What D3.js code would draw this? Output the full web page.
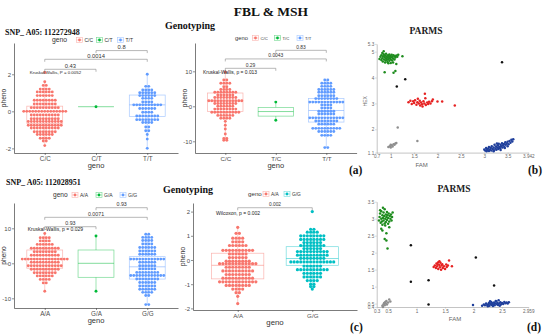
<!DOCTYPE html>
<html><head><meta charset="utf-8">
<script src="https://cdn.jsdelivr.net/npm/d3@7"></script>
<style>body{margin:0;background:#fff}svg{display:block}</style>
</head><body>
<svg id="c" width="546" height="334"></svg>
<script>
// ================= DATA =================
// ---- (a) left: SNP_ A05: 112272948 (FBL) ----
const fblTitle = "SNP_ A05: 112272948";
const fblCats = ["C/C", "C/T", "T/T"];
// dot rows: [pheno value, number of dots in the row]
const fblDotsCC = [[2.1,1],[1.6,1],[1.4,2],[1.2,4],[1.05,6],[0.85,6],[0.6,8],[0.4,8],[0.2,10],[0,15],[-0.2,10],[-0.4,10],[-0.55,12],[-0.75,12],[-0.9,10],[-1.1,8],[-1.25,6],[-1.45,4],[-1.6,2],[-1.85,1]];
const fblDotsCT = [[0.25,1]];
const fblDotsTT = [[2.0,1],[1.35,2],[1.15,4],[1.0,6],[0.85,6],[0.7,4],[0.5,4],[0.35,10],[0.15,6],[-0.05,4],[-0.25,8],[-0.45,8],[-0.6,4],[-0.85,2],[-1.05,2],[-1.25,1],[-1.5,1],[-2.0,1]];
// box stats: [min, q1, median, q3, max]
const fblBox = [[-1.85,-0.65,0.0,0.28,1.6],[0.25,0.25,0.25,0.25,0.25],[-2.0,-0.28,0.35,0.88,2.0]];
const fblTicks = [-2, 0, 2];
const fblPairs = [["C/T","T/T","0.8"],["C/C","T/T","0.0014"],["C/C","C/T","0.43"]];
const fblTest = "Kruskal-Wallis, P = 0.0052";

// ---- (a) right: MSH ----
const mshCats = ["C/C", "T/C", "T/T"];
const mshDotsCC = [[9.8,1],[7.5,2],[6.6,4],[5.6,2],[4.8,4],[4.0,8],[3.2,6],[2.5,8],[1.6,12],[0.8,8],[0,6],[-0.8,8],[-1.7,10],[-2.6,6],[-3.4,4],[-4.3,1],[-5.4,1],[-6.5,1],[-7.9,1],[-9.2,2],[-9.7,2]];
const mshDotsTC = [[1.2,1],[-4.0,1]];
const mshDotsTT = [[7.5,2],[6.6,4],[5.7,4],[4.8,6],[4.0,6],[3.0,6],[2.2,8],[1.2,12],[0.4,4],[-0.5,4],[-1.4,6],[-2.2,6],[-3.3,12],[-4.2,8],[-5.1,6],[-6.3,10],[-7.2,6],[-8.3,4],[-11.8,2]];
const mshBox = [[-9.7,-1.5,1.5,3.8,9.8],[-4.0,-2.8,-1.5,-0.3,1.2],[-11.8,-4.5,-1.2,2.2,7.5]];
const mshTicks = [-10, 0, 10];
const mshPairs = [["T/C","T/T","0.83"],["C/C","T/T","0.0043"],["C/C","T/C","0.29"]];
const mshTest = "Kruskal-Wallis, p = 0.013";

// ---- (c) left: SNP_ A05: 112028951 ----
const c1Title = "SNP_ A05: 112028951";
const c1Cats = ["A/A", "G/A", "G/G"];
const c1DotsAA = [[8.5,1],[7.3,4],[6.4,4],[5.4,6],[4.3,10],[3.3,8],[2.3,10],[1.2,16],[0.3,10],[-0.7,12],[-1.7,10],[-2.7,8],[-3.6,6],[-4.6,4],[-5.6,2],[-8.0,1]];
const c1DotsGA = [[7.8,1],[-8.0,1]];
const c1DotsGG = [[8.3,2],[7.4,4],[6.5,4],[5.5,4],[4.5,6],[3.5,6],[2.6,6],[1.2,12],[0.3,6],[-0.7,6],[-1.6,6],[-2.6,8],[-3.5,12],[-4.5,8],[-5.5,6],[-6.5,6],[-7.4,6],[-8.3,4],[-9.2,2],[-11.8,2]];
const c1Box = [[-8.0,-1.4,1.2,3.8,8.5],[-8.0,-4.0,0.0,3.8,7.8],[-11.8,-4.5,-1.0,1.9,8.3]];
const c1Ticks = [-10, 0, 10];
const c1Pairs = [["G/A","G/G","0.93"],["A/A","G/G","0.0071"],["A/A","G/A","0.93"]];
const c1Test = "Kruskal-Wallis, p = 0.029";

// ---- (c) right ----
const c2Cats = ["A/A", "G/G"];
const c2DotsAA = [[1.35,1],[1.1,2],[0.9,4],[0.75,4],[0.6,6],[0.4,10],[0.25,6],[0.1,6],[-0.05,8],[-0.15,12],[-0.3,8],[-0.45,10],[-0.6,8],[-0.75,10],[-0.9,12],[-1.05,8],[-1.2,4],[-1.35,2],[-1.5,1],[-1.8,1]];
const c2DotsGG = [[2.0,1],[1.27,2],[1.15,4],[1.0,8],[0.85,8],[0.72,6],[0.6,8],[0.47,6],[0.35,10],[0.2,10],[0.07,8],[-0.08,14],[-0.25,6],[-0.4,10],[-0.55,6],[-0.7,6],[-0.85,4],[-1.0,2],[-1.1,2],[-1.2,1]];
const c2Box = [[-1.8,-0.78,-0.22,0.28,1.35],[-1.2,-0.22,0.06,0.55,1.27]];
const c2Ticks = [-2, -1, 0, 1, 2];
const c2Pairs = [["A/A","G/G","0.002"]];
const c2Test = "Wilcoxon, p = 0.002";

// ---- (b) PARMS scatter: [FAM, HEX] ----
const bGreen = [[0.76,4.72],[0.78,4.80],[0.80,4.68],[0.80,4.86],[0.82,4.75],[0.83,4.62],[0.84,4.82],[0.85,4.90],[0.86,4.70],[0.87,4.78],[0.88,4.58],[0.88,4.85],[0.89,4.66],[0.90,4.74],[0.90,4.92],[0.91,4.81],[0.92,4.69],[0.93,4.60],[0.93,4.77],[0.94,4.86],[0.95,4.72],[0.96,4.80],[0.97,4.65],[0.97,4.89],[0.98,4.75],[0.99,4.83],[1.00,4.70],[1.01,4.78],[1.02,4.88],[1.03,4.66],[1.04,4.80],[1.05,4.74],[1.06,4.86],[1.08,4.70],[1.09,4.82],[1.10,4.77],[1.12,4.85],[1.14,4.80],[1.16,4.88],[0.85,5.02],[0.82,4.95],[1.00,4.56],[1.05,4.58],[0.95,4.55],[1.25,4.82],[0.87,4.20],[1.06,4.19],[1.10,4.25],[1.12,4.52]];
const bRed = [[1.38,3.05],[1.42,3.10],[1.45,2.98],[1.48,3.08],[1.50,3.02],[1.52,3.12],[1.55,2.95],[1.57,3.05],[1.60,3.00],[1.62,3.10],[1.63,2.92],[1.65,3.04],[1.67,2.97],[1.68,2.88],[1.70,3.08],[1.72,3.00],[1.73,3.37],[1.74,3.20],[1.75,2.94],[1.78,3.04],[1.80,2.98],[1.82,3.06],[1.85,3.00],[1.88,3.08],[1.90,3.15],[2.00,3.07],[2.10,3.07],[2.37,2.92],[1.58,3.18]];
const bBlue = [[3.00,1.22],[3.02,1.18],[3.04,1.28],[3.06,1.20],[3.08,1.25],[3.10,1.16],[3.10,1.32],[3.12,1.22],[3.14,1.28],[3.15,1.18],[3.16,1.35],[3.18,1.24],[3.20,1.30],[3.21,1.19],[3.22,1.40],[3.24,1.26],[3.25,1.34],[3.26,1.21],[3.28,1.30],[3.29,1.38],[3.30,1.24],[3.31,1.44],[3.32,1.32],[3.34,1.27],[3.35,1.40],[3.36,1.35],[3.38,1.46],[3.39,1.30],[3.40,1.38],[3.42,1.43],[3.43,1.33],[3.45,1.50],[3.46,1.40],[3.48,1.45],[3.50,1.52],[3.52,1.42],[3.54,1.55],[3.56,1.48],[3.58,1.60],[3.60,1.53],[3.62,1.62],[3.20,1.15],[3.35,1.20],[3.44,1.28],[3.05,1.15],[3.27,1.45],[3.50,1.35]];
const bGray = [[0.95,1.32],[0.98,1.35],[1.00,1.30],[1.02,1.38],[1.04,1.34],[1.06,1.42],[1.08,1.40],[1.10,1.45],[1.12,1.47],[1.00,1.40],[1.15,2.07],[1.57,1.55]];
const bBlack = [[1.13,3.65],[1.31,3.93],[3.38,4.59]];
const bXTicks = [0.7, 1, 1.5, 2, 2.5, 3, 3.5, 3.942];
const bYTicks = [1.1, 2, 3, 4, 5, 5.3];

// ---- (d) PARMS scatter ----
const dGreen = [[0.34,2.95],[0.35,3.05],[0.36,3.15],[0.37,2.88],[0.38,3.00],[0.38,3.22],[0.39,2.92],[0.40,3.10],[0.40,2.82],[0.41,3.02],[0.42,3.18],[0.42,2.95],[0.43,3.08],[0.44,2.86],[0.44,3.28],[0.45,3.00],[0.46,3.12],[0.46,2.90],[0.47,3.05],[0.48,3.20],[0.48,2.96],[0.49,3.10],[0.50,2.85],[0.50,3.02],[0.51,3.15],[0.52,2.92],[0.53,3.08],[0.54,3.00],[0.55,3.12],[0.56,2.95],[0.57,3.05],[0.58,3.18],[0.38,2.70],[0.40,2.65],[0.45,2.80],[0.47,2.57],[0.44,2.40],[0.47,2.36],[0.49,2.12],[0.52,2.75],[0.36,3.25],[0.41,3.32]];
const dRed = [[1.30,1.58],[1.32,1.62],[1.34,1.55],[1.35,1.68],[1.36,1.60],[1.38,1.52],[1.38,1.72],[1.40,1.64],[1.41,1.57],[1.42,1.70],[1.43,1.50],[1.44,1.62],[1.45,1.66],[1.46,1.55],[1.48,1.60],[1.50,1.52],[1.52,1.65],[1.53,1.58],[1.55,1.62],[1.57,1.77],[1.62,1.60],[1.40,1.75],[1.37,1.66]];
const dBlue = [[1.99,0.46],[2.15,0.44],[2.18,0.47],[2.20,0.45],[2.22,0.50],[2.24,0.46],[2.26,0.48],[2.27,0.52],[2.28,0.44],[2.30,0.49],[2.31,0.55],[2.32,0.46],[2.33,0.51],[2.35,0.47],[2.36,0.53],[2.37,0.45],[2.38,0.50],[2.40,0.56],[2.41,0.48],[2.42,0.52],[2.43,0.46],[2.44,0.60],[2.45,0.50],[2.47,0.54],[2.48,0.47],[2.50,0.52],[2.52,0.49],[2.54,0.55],[2.56,0.51],[2.58,0.53],[2.60,0.50],[2.62,0.54],[2.25,0.42],[2.34,0.43],[2.46,0.44],[2.39,0.58],[2.29,0.57]];
const dGray = [[0.40,0.44],[0.42,0.48],[0.43,0.52],[0.44,0.45],[0.45,0.55],[0.46,0.50],[0.47,0.58],[0.48,0.47],[0.50,0.53],[0.52,0.62],[0.54,0.56],[0.41,0.40]];
const dBlack = [[0.9,2.22],[0.9,1.14],[1.21,1.19],[1.21,0.47],[2.04,1.86],[2.36,1.03]];
const dXTicks = [0.3, 0.5, 1, 1.5, 2, 2.5, 2.959];
const dYTicks = [0.4, 0.5, 1, 1.5, 2, 2.5, 3, 3.5];

// ================= DRAWING =================
const svg = d3.select("#c");
const SANS = "'Liberation Sans', Arial, sans-serif";
const SERIF = "'Liberation Serif', 'Times New Roman', serif";
const GG3 = ["#F8766D", "#00BA38", "#619CFF"];
const GG2 = ["#F8766D", "#00BFC4"];

function txt(g, x, y, s, size, opt = {}) {
  return g.append("text").attr("x", x).attr("y", y).text(s)
    .attr("font-family", opt.family || SANS).attr("font-size", size)
    .attr("font-weight", opt.weight || "normal")
    .attr("fill", opt.fill || "#222")
    .attr("text-anchor", opt.anchor || "start");
}

function boxPanel(o) {
  const g = svg.append("g");
  const x = d3.scalePoint().domain(o.cats).range([o.left, o.right]).padding(0.6);
  const y = d3.scaleLinear().domain(o.domain).range([o.bottom, o.top]);
  const bw = x.step() * 0.7;

  // axes
  const ya = g.append("g").attr("transform", `translate(${o.left},0)`)
    .call(d3.axisLeft(y).tickValues(o.ticks).tickSize(2).tickSizeOuter(0).tickFormat(d => String(d)));
  const xa = g.append("g").attr("transform", `translate(0,${o.bottom})`)
    .call(d3.axisBottom(x).tickSize(2).tickSizeOuter(0));
  [ya, xa].forEach(a => {
    a.select(".domain").attr("stroke", "#444").attr("stroke-width", 0.7);
    a.selectAll(".tick line").attr("stroke", "#444").attr("stroke-width", 0.6);
    a.selectAll(".tick text").attr("font-family", SANS).attr("fill", "#4d4d4d");
  });
  ya.selectAll(".tick text").attr("font-size", o.ytSize).attr("x", -3).attr("dy", "0.35em");
  xa.selectAll(".tick text").attr("font-size", o.xtSize).attr("y", 4).attr("dy", "0.71em");

  // boxes
  o.box.forEach((b, i) => {
    const cx = x(o.cats[i]), c = o.colors[i];
    const bg = g.append("g").attr("stroke", c).attr("stroke-opacity", 0.55).attr("stroke-width", 0.7).attr("fill", "none");
    bg.append("line").attr("x1", cx).attr("x2", cx).attr("y1", y(b[0])).attr("y2", y(b[1]));
    bg.append("line").attr("x1", cx).attr("x2", cx).attr("y1", y(b[3])).attr("y2", y(b[4]));
    bg.append("rect").attr("x", cx - bw / 2).attr("width", bw).attr("y", y(b[3])).attr("height", Math.max(0, y(b[1]) - y(b[3])))
      .attr("fill", "#fff").attr("fill-opacity", 0.4);
    bg.append("line").attr("x1", cx - bw / 2).attr("x2", cx + bw / 2).attr("y1", y(b[2])).attr("y2", y(b[2])).attr("stroke-width", 0.9);
  });

  // dots (centred dot-plot rows)
  o.dots.forEach((rows, i) => {
    const cx = x(o.cats[i]);
    const pts = [];
    rows.forEach(([v, n]) => { for (let k = 0; k < n; k++) pts.push([cx + (k - (n - 1) / 2) * o.sp, y(v)]); });
    g.append("g").selectAll("circle").data(pts).join("circle")
      .attr("cx", d => d[0]).attr("cy", d => d[1]).attr("r", o.r).attr("fill", o.colors[i]);
  });

  // brackets
  o.pairs.forEach((p, j) => {
    const x1 = x(p[0]), x2 = x(p[1]), yy = y(o.bracketY[j]);
    g.append("path").attr("d", `M${x1},${yy + 2.5}V${yy}H${x2}V${yy + 2.5}`)
      .attr("fill", "none").attr("stroke", "#888").attr("stroke-width", 0.6);
    txt(g, (x1 + x2) / 2, yy - 1.6, p[2], o.pSize, { anchor: "middle", fill: "#333" });
  });
  txt(g, x(o.cats[0]) + o.testDx, y(o.testY), o.test, o.testSize, { fill: "#222" });

  // axis titles
  txt(g, (o.left + o.right) / 2, o.bottom + 15, "geno", o.titleSize, { anchor: "middle", fill: "#333" });
  g.append("text").attr("transform", `translate(${o.left - 8.5},${(o.top + o.bottom) / 2}) rotate(-90)`)
    .attr("text-anchor", "middle").attr("font-family", SANS).attr("font-size", o.titleSize - 0.8).attr("fill", "#333").text("pheno");

  // legend
  txt(g, o.legX, o.legY + 2, "geno", o.legTitleSize, { fill: "#333" });
  o.legKeys.forEach((kx, i) => {
    const c = o.colors[i];
    g.append("rect").attr("x", kx - 3).attr("y", o.legY - 2.5).attr("width", 6).attr("height", 5)
      .attr("fill", "none").attr("stroke", c).attr("stroke-opacity", 0.55).attr("stroke-width", 0.6);
    g.append("line").attr("x1", kx - 3).attr("x2", kx + 3).attr("y1", o.legY).attr("y2", o.legY)
      .attr("stroke", c).attr("stroke-opacity", 0.55).attr("stroke-width", 0.6);
    g.append("circle").attr("cx", kx).attr("cy", o.legY).attr("r", 1.4).attr("fill", c);
    txt(g, kx + 5, o.legY + 1.6, o.cats[i], o.legSize, { fill: "#333" });
  });
}

function scatterPanel(o) {
  const g = svg.append("g");
  const x = d3.scaleLinear().domain(o.xd).range([o.left, o.right]);
  const y = d3.scaleLinear().domain(o.yd).range([o.bottom, o.top]);
  const xa = g.append("g").attr("transform", `translate(0,${o.bottom})`)
    .call(d3.axisBottom(x).tickValues(o.xt).tickSize(1.5).tickSizeOuter(0).tickFormat(d => String(d)));
  const ya = g.append("g").attr("transform", `translate(${o.left},0)`)
    .call(d3.axisLeft(y).tickValues(o.yt).tickSize(1.5).tickSizeOuter(0).tickFormat(d => String(d)));
  [xa, ya].forEach(a => {
    a.select(".domain").attr("stroke", "#b5b5b5").attr("stroke-width", 0.8);
    a.selectAll(".tick line").attr("stroke", "#b5b5b5").attr("stroke-width", 0.6);
    a.selectAll(".tick text").attr("font-family", SANS).attr("font-size", 4.6).attr("fill", "#666");
  });
  xa.selectAll(".tick text").attr("y", 2.5).attr("dy", "0.71em");
  ya.selectAll(".tick text").attr("x", -2.5).attr("dy", "0.35em");
  o.groups.forEach(([pts, c]) => {
    g.append("g").selectAll("circle").data(pts).join("circle")
      .attr("cx", d => x(d[0])).attr("cy", d => y(d[1])).attr("r", 1.25).attr("fill", c);
  });
  txt(g, o.famX, o.bottom + 14, "FAM", 6, { anchor: "middle", fill: "#666" });
  if (o.hex) g.append("text").attr("transform", `translate(${o.left - 10},${(o.top + o.bottom) / 2 + 3}) rotate(-90)`)
    .attr("text-anchor", "middle").attr("font-family", SANS).attr("font-size", 5).attr("fill", "#666").text("HEX");
  txt(g, o.titleX, o.top - 10, "PARMS", 9.5, { anchor: "middle", family: SERIF, weight: "bold", fill: "#222" });
}

// titles
txt(svg, 271, 16, "FBL & MSH", 13.5, { anchor: "middle", family: SERIF, weight: "bold", fill: "#111" });
txt(svg, 190, 28.5, "Genotyping", 10, { anchor: "middle", family: SERIF, weight: "bold", fill: "#111" });
txt(svg, 188, 192.5, "Genotyping", 10, { anchor: "middle", family: SERIF, weight: "bold", fill: "#111" });
txt(svg, 5, 34.5, fblTitle, 8, { family: SERIF, weight: "bold", fill: "#111" });
txt(svg, 6, 184.5, c1Title, 8, { family: SERIF, weight: "bold", fill: "#111" });

boxPanel({ cats: fblCats, dots: [fblDotsCC, fblDotsCT, fblDotsTT], box: fblBox, ticks: fblTicks, pairs: fblPairs, test: fblTest,
  colors: GG3, left: 14, right: 178, top: 43, bottom: 153, domain: [-2.25, 3.69], r: 1.45, sp: 3,
  bracketY: [3.28, 2.81, 2.27], pSize: 5.8, testDx: -15, testY: 2.02, testSize: 4.4,
  ytSize: 6, xtSize: 6.3, titleSize: 7.5, legX: 52, legY: 40, legKeys: [79.5, 99.5, 120.5], legTitleSize: 6.8, legSize: 5 });

boxPanel({ cats: mshCats, dots: [mshDotsCC, mshDotsTC, mshDotsTT], box: mshBox, ticks: mshTicks, pairs: mshPairs, test: mshTest,
  colors: GG3, left: 195, right: 356.6, top: 43, bottom: 153, domain: [-13.34, 18.09], r: 1.45, sp: 3,
  bracketY: [16.0, 13.54, 10.86], pSize: 4.9, testDx: -22.3, testY: 9.34, testSize: 4.9,
  ytSize: 6, xtSize: 6.2, titleSize: 7.5, legX: 235, legY: 38, legKeys: [255.5, 277.5, 300], legTitleSize: 5.8, legSize: 4.2 });

boxPanel({ cats: c1Cats, dots: [c1DotsAA, c1DotsGA, c1DotsGG], box: c1Box, ticks: c1Ticks, pairs: c1Pairs, test: c1Test,
  colors: GG3, left: 14, right: 178, top: 203, bottom: 308, domain: [-12.77, 17.23], r: 1.45, sp: 3,
  bracketY: [15.89, 13.14, 10.46], pSize: 5.3, testDx: -17, testY: 9.31, testSize: 5,
  ytSize: 6, xtSize: 6.3, titleSize: 7.5, legX: 53, legY: 195, legKeys: [75, 99, 123], legTitleSize: 6.6, legSize: 5 });

boxPanel({ cats: c2Cats, dots: [c2DotsAA, c2DotsGG], box: c2Box, ticks: c2Ticks, pairs: c2Pairs, test: c2Test,
  colors: GG2, left: 193, right: 357, top: 203, bottom: 310, domain: [-2.066, 2.355], r: 1.6, sp: 3.3,
  bracketY: [2.16], pSize: 4.8, testDx: -21.7, testY: 1.86, testSize: 5,
  ytSize: 6, xtSize: 6.2, titleSize: 7.8, legX: 248, legY: 194, legKeys: [266, 287], legTitleSize: 6.2, legSize: 4.8 });

scatterPanel({ left: 376.7, right: 528.3, top: 43.9, bottom: 152.6, xd: [0.7, 3.942], yd: [1.1, 5.3],
  xt: bXTicks, yt: bYTicks, famX: 421.7, hex: true, titleX: 426,
  groups: [[bGreen, "#1e8c1e"], [bRed, "#e62222"], [bBlue, "#1f3f9c"], [bGray, "#8f8f8f"], [bBlack, "#111"]] });

scatterPanel({ left: 376.7, right: 528.2, top: 201.7, bottom: 307, xd: [0.3, 2.959], yd: [0.4, 3.5],
  xt: dXTicks, yt: dYTicks, famX: 455, hex: false, titleX: 454,
  groups: [[dGreen, "#1e8c1e"], [dRed, "#e62222"], [dBlue, "#1f3f9c"], [dGray, "#8f8f8f"], [dBlack, "#111"]] });

// panel letters
txt(svg, 349, 174, "(a)", 11.5, { family: SERIF, weight: "bold", fill: "#111" });
txt(svg, 528, 174, "(b)", 11.5, { family: SERIF, weight: "bold", fill: "#111" });
txt(svg, 350, 331, "(c)", 11.5, { family: SERIF, weight: "bold", fill: "#111" });
txt(svg, 527, 331, "(d)", 11.5, { family: SERIF, weight: "bold", fill: "#111" });
</script>
</body></html>
